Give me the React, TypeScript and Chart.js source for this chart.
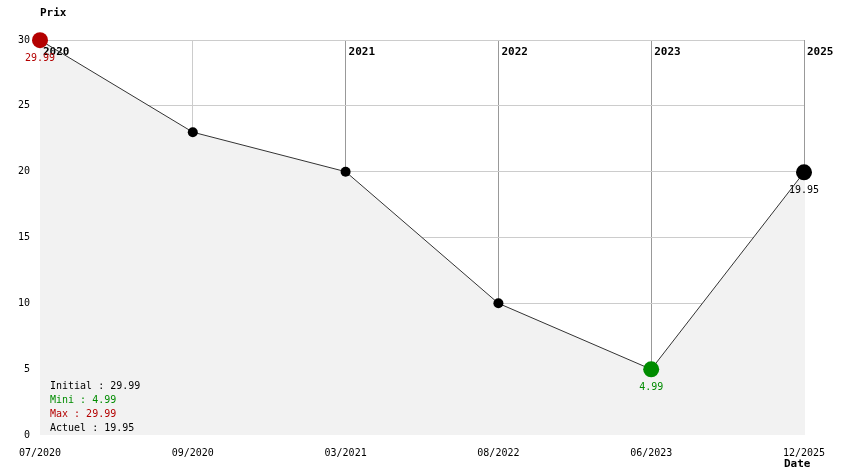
import React, { useEffect, useRef } from "react";
import { Chart, registerables } from "chart.js";

Chart.register(...registerables);

const dates = ["07/2020", "09/2020", "03/2021", "08/2022", "06/2023", "12/2025"];
const prices = [29.99, 23, 20, 10, 4.99, 19.95];
const yearMarks = ["2020", "", "2021", "2022", "2023", "2025"];
const yTicks = [0, 5, 10, 15, 20, 25, 30];
const pointColors = ["#b40000", "#000000", "#000000", "#000000", "#008c00", "#000000"];
const pointSizes = [8, 5, 5, 5, 8, 8];
const pointLabels = ["29.99", "", "", "", "4.99", "19.95"];
const summaryLines = ["Initial : 29.99", "Mini : 4.99", "Max : 29.99", "Actuel : 19.95"];
const summaryColors = ["#000000", "#008c00", "#b40000", "#000000"];

const MONO = "'DejaVu Sans Mono', monospace";

const overlay = {
  id: "overlay",
  beforeDatasetsDraw(chart: any) {
    const ctx = chart.ctx;
    const xs = chart.scales.x;
    const ys = chart.scales.y;
    const area = chart.chartArea;
    ctx.save();
    // area fill under the line (covers grid lines)
    ctx.fillStyle = "#f2f2f2";
    ctx.beginPath();
    prices.forEach((v, i) => {
      const px = xs.getPixelForValue(i);
      const py = ys.getPixelForValue(v);
      if (i === 0) ctx.moveTo(px, py);
      else ctx.lineTo(px, py);
    });
    const lastX = xs.getPixelForValue(prices.length - 1);
    const lastY = ys.getPixelForValue(prices[prices.length - 1]);
    const bottom = ys.getPixelForValue(0);
    ctx.lineTo(lastX + 1, lastY);
    ctx.lineTo(lastX + 1, bottom);
    ctx.lineTo(xs.getPixelForValue(0), bottom);
    ctx.closePath();
    ctx.fill();
    // year labels
    ctx.font = `bold 11px ${MONO}`;
    ctx.fillStyle = "#000";
    ctx.textAlign = "left";
    ctx.textBaseline = "middle";
    yearMarks.forEach((y, i) => {
      if (!y) return;
      ctx.fillText(y, xs.getPixelForValue(i) + 3, area.top + 12);
    });
    ctx.restore();
  },
  afterDatasetsDraw(chart: any) {
    const ctx = chart.ctx;
    const xs = chart.scales.x;
    const ys = chart.scales.y;
    const area = chart.chartArea;
    ctx.save();
    ctx.textBaseline = "middle";
    ctx.font = `10px ${MONO}`;
    ctx.textAlign = "center";
    pointLabels.forEach((t, i) => {
      if (!t) return;
      ctx.fillStyle = pointColors[i];
      ctx.fillText(t, xs.getPixelForValue(i), ys.getPixelForValue(prices[i]) + 18);
    });
    ctx.textAlign = "left";
    summaryLines.forEach((t, i) => {
      ctx.fillStyle = summaryColors[i];
      ctx.fillText(t, area.left + 10, area.bottom - 49 + i * 14);
    });
    ctx.font = `bold 11px ${MONO}`;
    ctx.fillStyle = "#000";
    ctx.fillText("Prix", area.left, 13);
    ctx.fillText("Date", area.right - 20, 464);
    ctx.restore();
  },
};

export default function App() {
  const ref = useRef<HTMLCanvasElement | null>(null);
  useEffect(() => {
    document.body.style.margin = "0";
    const chart = new Chart(ref.current!, {
      type: "line",
      data: {
        labels: dates,
        datasets: [
          {
            data: prices,
            borderColor: "#333333",
            borderWidth: 1,
            fill: false,
            tension: 0,
            clip: false,
            pointRadius: pointSizes,
            pointHoverRadius: pointSizes,
            pointBackgroundColor: pointColors,
            pointBorderColor: pointColors,
            pointBorderWidth: 0,
          } as any,
        ],
      },
      options: {
        responsive: false,
        animation: false,
        layout: { padding: { left: 0, right: 40, top: 40, bottom: 0 } },
        plugins: { legend: { display: false }, tooltip: { enabled: false } },
        scales: {
          x: {
            type: "category",
            offset: false,
            border: { display: false },
            grid: {
              drawTicks: false,
              color: (c: any) => (c.index === 1 ? "#cccccc" : "#999999"),
              lineWidth: 1,
            },
            ticks: {
              autoSkip: false,
              maxRotation: 0,
              padding: 12,
              color: "#000",
              font: { family: MONO, size: 10 },
            },
            afterFit: (s: any) => {
              s.height = 39;
            },
          },
          y: {
            min: 0,
            max: 30,
            border: { display: false },
            grid: {
              drawTicks: false,
              color: (c: any) => (c.tick && c.tick.value === 0 ? "rgba(0,0,0,0)" : "#cccccc"),
              lineWidth: 1,
            },
            afterBuildTicks: (s: any) => {
              s.ticks = yTicks.map((v) => ({ value: v }));
            },
            ticks: {
              padding: 10,
              color: "#000",
              font: { family: MONO, size: 10 },
            },
            afterFit: (s: any) => {
              s.width = 40;
            },
          },
        },
      },
      plugins: [overlay],
    });
    return () => chart.destroy();
  }, []);
  return (
    <div style={{ position: "absolute", left: 0, top: 0, width: 844, height: 474, background: "#fff" }}>
      <canvas ref={ref} width={844} height={474} />
    </div>
  );
}
